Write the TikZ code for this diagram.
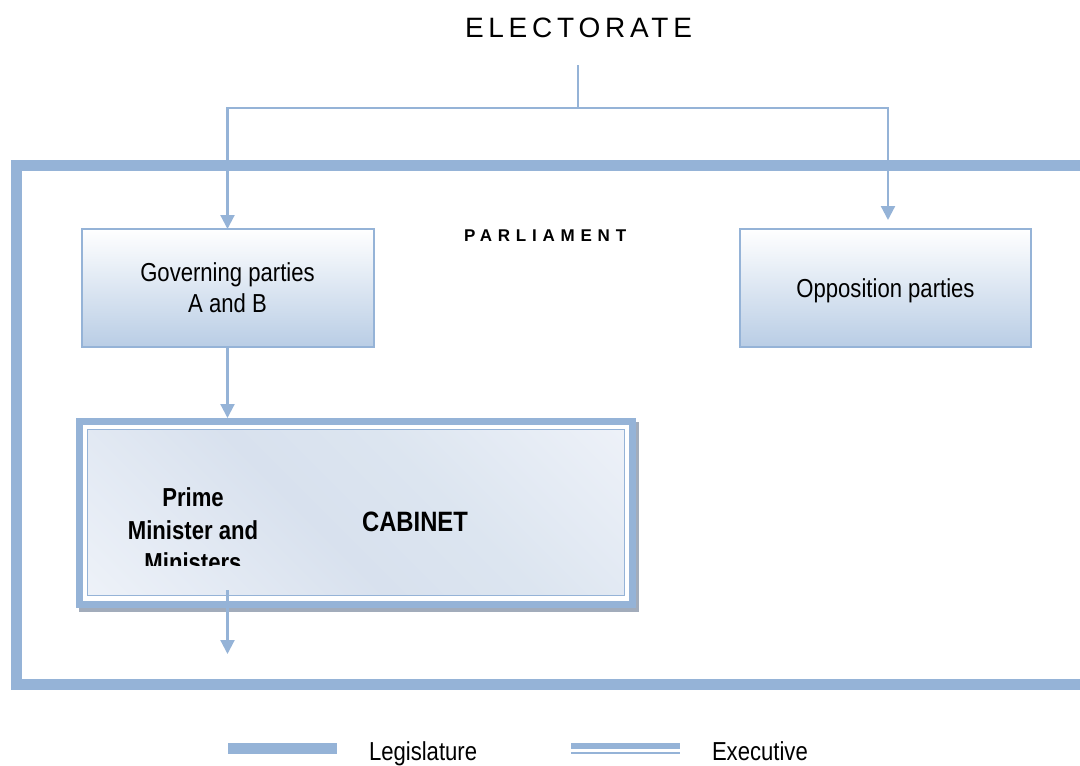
\documentclass[tikz,border=0pt]{standalone}
\usepackage{fontspec}
\setmainfont{Liberation Sans}
\newfontfamily\narrowfont[FakeStretch=0.85]{Liberation Sans}
\newfontfamily\trackedfont[LetterSpace=17]{Liberation Sans}
\newfontfamily\trackedboldfont[LetterSpace=34]{Liberation Sans Bold}
\usetikzlibrary{arrows.meta}

\definecolor{frameblue}{HTML}{95B3D7}
\definecolor{boxblue}{HTML}{B9CDE5}
\definecolor{shadowgray}{HTML}{A2ACBB}
\definecolor{cabA}{HTML}{F8FAFD}
\definecolor{cabB}{HTML}{E6ECF5}
\definecolor{cabC}{HTML}{D8E1EE}
\definecolor{cabD}{HTML}{DCE5F0}
\definecolor{cabE}{HTML}{EDF1F8}
\definecolor{cabF}{HTML}{F5F7FB}

\pgfdeclarehorizontalshading{cabshade}{100bp}{%
  color(0bp)=(cabA); color(25bp)=(cabB); color(45bp)=(cabC);
  color(60bp)=(cabD); color(85bp)=(cabE); color(100bp)=(cabF)}

\begin{document}
\begin{tikzpicture}[x=1pt,y=-1pt,
  conn/.style={draw=frameblue, line width=2.2pt},
  tipped/.style={-{Triangle[length=14pt,width=14pt]}},
  legis/.style={draw=frameblue, line width=11pt, line join=miter},
  execthick/.style={draw=frameblue, line width=6pt},
  execthin/.style={draw=frameblue, line width=2.5pt},
  partybox/.style={draw=frameblue, line width=2pt, top color=white,
    bottom color=boxblue, minimum width=292pt, minimum height=118pt,
    inner sep=0pt, outer sep=0pt, align=center,
    font=\narrowfont\fontsize{26}{31}\selectfont},
  cabframe/.style={draw=frameblue, fill=white, line width=7pt,
    minimum width=553pt, minimum height=183pt, inner sep=0pt, outer sep=0pt,
    preaction={fill=shadowgray, draw=shadowgray, line width=7pt,
      transform canvas={shift={(3pt,-4pt)}}}},
  cabinner/.style={draw=frameblue, line width=1.5pt, shading=cabshade,
    shading angle=45, minimum width=537pt, minimum height=166pt,
    inner sep=0pt, outer sep=0pt},
  plain/.style={inner sep=0pt, outer sep=0pt},
  ]
\useasboundingbox (0,0) rectangle (1080,766);
\clip (0,0) rectangle (1080,766);

% Parliament frame (legislature), open to the right
\draw[legis] (1100,165.5) -- (16.5,165.5) -- (16.5,684.5) -- (1100,684.5);

% Electorate and parliament headings
\node[plain, anchor=base west, font=\trackedfont\fontsize{28}{34}\selectfont]
  (elect) at (465,37) {ELECTORATE};
\node[plain, anchor=base west, font=\trackedboldfont\fontsize{17}{20}\selectfont]
  (parl) at (464,241) {PARLIAMENT};

% Parties
\node[partybox] (gov) at (227.5,288) {Governing parties\\A and B};
\node[partybox, minimum width=291pt, text depth=0pt] (opp) at (885.5,288) {Opposition parties};

% Cabinet (executive)
\node[cabframe] (cab) at (356,513) {};
\node[cabinner] (cabin) at (356,512.5) {};
\node[plain, font=\narrowfont\bfseries\fontsize{28}{34}\selectfont, text depth=0pt]
  (cabtitle) at (415,522) {CABINET};
\begin{scope}
  \clip (90,432) rectangle (620,565);
  \node[plain, align=center, text depth=0pt,
    font=\narrowfont\bfseries\fontsize{26}{32.5}\selectfont]
    (pm) at (193,530) {Prime\\Minister and\\Ministers};
\end{scope}

% Connectors
\coordinate (etop) at (578,65);
\coordinate (split) at (578,108);
\coordinate (oppin) at (888,220);
\coordinate (cabout) at (227.5,590);
\coordinate (execout) at (227.5,654);
\draw[conn, tipped] (etop) -- (split) -| (gov.north);
\draw[conn, tipped] (split) -| (oppin);
\draw[conn, tipped, shorten >=3.5pt] (gov.south) -- (gov.south |- cab.north);
\draw[conn, tipped] (cabout) -- (execout);

% Legend
\coordinate (legA) at (228,748);
\coordinate (legB) at (337,748);
\coordinate (exA) at (571,746);
\coordinate (exB) at (680,746);
\coordinate (exC) at (571,753);
\coordinate (exD) at (680,753);
\draw[legis] (legA) -- (legB);
\draw[execthick] (exA) -- (exB);
\draw[execthin] (exC) -- (exD);
\node[plain, anchor=base west, font=\narrowfont\fontsize{26}{31}\selectfont]
  (legtext) at (369,760) {Legislature};
\node[plain, anchor=base west, font=\narrowfont\fontsize{26}{31}\selectfont]
  (exectext) at (712,760) {Executive};
\end{tikzpicture}
\end{document}
